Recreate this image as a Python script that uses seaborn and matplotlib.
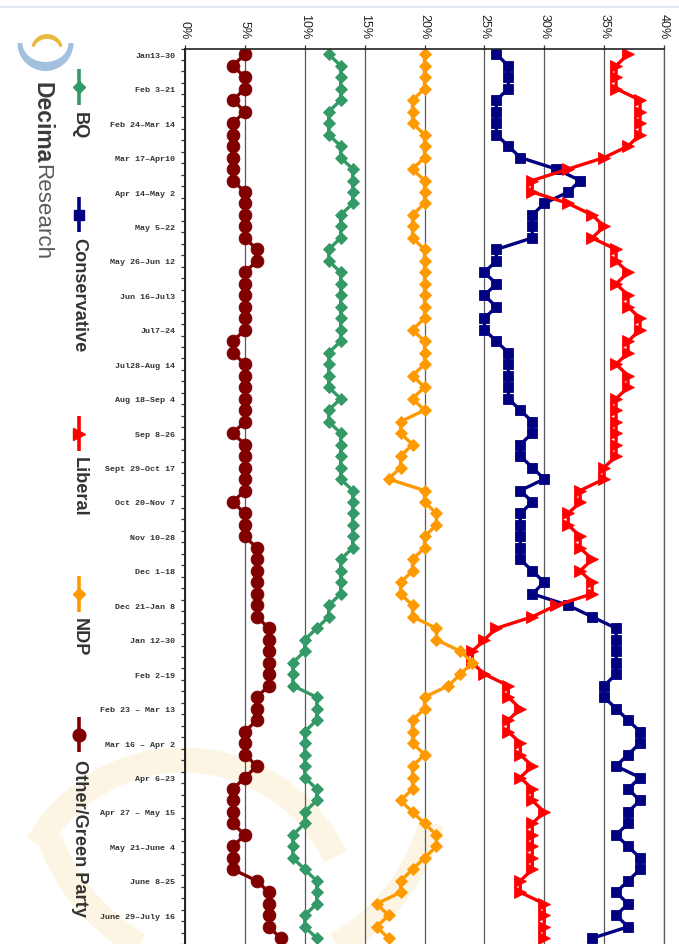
import numpy as np
import pandas as pd
import matplotlib
matplotlib.use("Agg")
import matplotlib.pyplot as plt
from matplotlib import font_manager
import seaborn as sns

# Poll periods (one label for every third rolling sample)
period_labels = [
    "Jan13–30", "Feb 3–21", "Feb 24–Mar 14", "Mar 17–Apr10", "Apr 14–May 2",
    "May 5–22", "May 26–Jun 12", "Jun 16–Jul3", "Jul7–24", "Jul28–Aug 14",
    "Aug 18–Sep 4", "Sep 8–26", "Sept 29–Oct 17", "Oct 20–Nov 7", "Nov 10–28",
    "Dec 1–18", "Dec 21–Jan 8", "Jan 12–30", "Feb 2–19", "Feb 23 – Mar 13",
    "Mar 16 – Apr 2", "Apr 6–23", "Apr 27 – May 15", "May 21–June 4",
    "June 8–25", "June 29–July 16",
]
label_step = 3

# Vote intention (%) per rolling sample
bq = [12, 13, 13, 13, 13, 12, 12, 12, 13, 13, 14, 14, 14, 14, 13,
      13, 13, 12, 12, 13, 13, 13, 13, 13, 13, 13, 12, 12, 12, 12,
      13, 12, 12, 13, 13, 13, 13, 13, 14, 14, 14, 14, 14, 14, 13, 13,
      13, 13, 12, 12, 11, 10, 10, 9, 9, 9, 11, 11, 11, 10, 10, 10,
      10, 10, 11, 11, 10, 10, 9, 9, 9, 10, 11, 11, 11, 10, 10, 11]
conservative = [26, 27, 27, 27, 26, 26, 26, 26, 27, 28, 31, 33, 32, 30, 29,
                29, 29, 26, 26, 25, 26, 25, 26, 25, 25, 26, 27, 27, 27, 27,
                27, 28, 29, 29, 28, 28, 29, 30, 28, 29, 28, 28, 28, 28, 28, 29,
                30, 29, 32, 34, 36, 36, 36, 36, 36, 35, 35, 36, 37, 38, 38, 37,
                36, 38, 37, 38, 37, 37, 36, 37, 38, 38, 37, 36, 37, 36, 37, 34]
liberal = [37, 36, 36, 36, 38, 38, 38, 38, 37, 35, 32, 29, 29, 32, 34,
           35, 34, 36, 36, 37, 36, 37, 37, 38, 38, 37, 37, 36, 37, 37,
           36, 36, 36, 36, 36, 36, 35, 35, 33, 33, 32, 32, 33, 33, 34, 33,
           34, 34, 31, 29, 26, 25, 24, 24, 25, 27, 27, 28, 27, 27, 28, 28,
           29, 28, 29, 29, 30, 29, 29, 29, 29, 29, 28, 28, 30, 30, 30, 30]
ndp = [20, 20, 20, 20, 19, 19, 19, 20, 20, 20, 19, 20, 20, 20, 19,
       19, 19, 20, 20, 20, 20, 20, 20, 20, 19, 20, 20, 20, 19, 20,
       19, 20, 18, 18, 19, 18, 18, 17, 20, 20, 21, 21, 20, 20, 19, 19,
       18, 18, 19, 19, 21, 21, 23, 24, 23, 22, 20, 20, 19, 19, 19, 20,
       19, 19, 19, 18, 19, 20, 21, 21, 20, 19, 18, 18, 16, 17, 16, 17]
other_green = [5, 4, 5, 5, 4, 5, 4, 4, 4, 4, 4, 4, 5, 5, 5,
               5, 5, 6, 6, 5, 5, 5, 5, 5, 5, 4, 4, 5, 5, 5,
               5, 5, 5, 4, 5, 5, 5, 5, 5, 4, 5, 5, 5, 6, 6, 6,
               6, 6, 6, 6, 7, 7, 7, 7, 7, 7, 6, 6, 6, 5, 5, 5,
               6, 5, 4, 4, 4, 4, 5, 4, 4, 4, 6, 7, 7, 7, 7, 8]

party_names = ["BQ", "Conservative", "Liberal", "NDP", "Other/Green Party"]
party_values = [bq, conservative, liberal, ndp, other_green]
party_colors = ["#339966", "#000080", "#FF0000", "#FF9900", "#800000"]
party_markers = ["D", "s", ">", "D", "o"]
marker_sizes = [6.6, 7.0, 8.6, 6.6, 9.2]

value_ticks = list(range(0, 41, 5))

# ---------------------------------------------------------------- styling
sns.set_style("white")
names = {f.name for f in font_manager.fontManager.ttflist}
NARROW = "Liberation Sans Narrow" if "Liberation Sans Narrow" in names else None
SANS = [NARROW, "Liberation Sans", "DejaVu Sans"] if NARROW else ["Liberation Sans", "DejaVu Sans"]
shrink = 1.0 if NARROW else 0.84
plt.rcParams["font.family"] = SANS

W, H, DPI = 679, 945, 100
fig = plt.figure(figsize=(W / DPI, H / DPI), dpi=DPI)
fig.patch.set_facecolor("white")

# full-figure pixel canvas for branding, legend and watermark
bg = fig.add_axes([0, 0, 1, 1], zorder=0)
bg.set_xlim(0, W)
bg.set_ylim(H, 0)
bg.axis("off")

bg.plot([0, W], [7.5, 7.5], color="#DCE4EC", lw=1.2)

# faint watermark arcs
wm = "#FCF5E3"
t = np.radians(np.linspace(25, 150, 200))
bg.plot(183 + 168 * np.cos(t), 929 - 168 * np.sin(t), color=wm, lw=18,
        solid_capstyle="butt", zorder=0)
t = np.radians(np.linspace(200, 345, 200))
bg.plot(238 + 200 * np.cos(t), 772 - 200 * np.sin(t), color=wm, lw=18,
        solid_capstyle="butt", zorder=0)

# logo: blue crescent and yellow arc
t = np.linspace(0, np.pi, 120)
outer_x, outer_y = 45.5 + 28 * np.cos(t), 44 + 28 * np.sin(t)
inner_x, inner_y = 45.5 + 23 * np.cos(t[::-1]), 44 + 19 * np.sin(t[::-1])
bg.fill(np.r_[outer_x, inner_x], np.r_[outer_y, inner_y], color="#A3C1DE", lw=0)
t = np.radians(np.linspace(14, 166, 120))
outer_x, outer_y = 47 + 16 * np.cos(t), 51 - 16 * np.sin(t)
inner_x, inner_y = 47 + 13 * np.cos(t[::-1]), 51 - 11 * np.sin(t[::-1])
bg.fill(np.r_[outer_x, inner_x], np.r_[outer_y, inner_y], color="#E9B940", lw=0)
bg.text(42, 82, "Decima", rotation=-90, ha="center", va="top",
        fontsize=20 * shrink * 0.98, fontweight="bold", color="#3A3A3A")
bg.text(42, 164, "Research", rotation=-90, ha="center", va="top",
        fontsize=20 * shrink * 0.96, color="#5A5A5A")

# legend (rotated entries)
legend_slots = [(70, 106, 112), (198, 233, 238), (417, 452, 457),
                (577, 613, 618), (718, 753, 760)]
for name, color, mk, ms, (y0, y1, yt) in zip(party_names, party_colors,
                                             party_markers, marker_sizes,
                                             legend_slots):
    bg.plot([79, 79], [y0, y1], color=color, lw=2.6, solid_capstyle="butt")
    bg.plot([79], [(y0 + y1) / 2], marker=mk, ms=ms, color=color, mec=color)
    bg.text(79, yt, name, rotation=-90, ha="center", va="top",
            fontsize=15.5 * shrink, fontweight="bold", color="#333333")

# ---------------------------------------------------------------- chart
n = len(bq)
top_px, left_px, right_px = 49.5, 185, 664
step_px = 11.53
y_bottom = -0.5 + (H - top_px) / step_px
ax = fig.add_axes([left_px / W, 0, (right_px - left_px) / W, (H - top_px) / H],
                  zorder=1)
ax.set_facecolor("none")

for name, vals, color, mk, ms in zip(party_names, party_values, party_colors,
                                     party_markers, marker_sizes):
    d = pd.DataFrame({"period": np.arange(len(vals)), "share": vals})
    sns.lineplot(data=d, x="share", y="period", orient="y", sort=False,
                 estimator=None, color=color, marker=mk, markersize=ms,
                 markeredgecolor=color, markeredgewidth=0.6, linewidth=2.4,
                 legend=False, ax=ax)

ax.set_xlim(0, 40)
ax.set_ylim(y_bottom, -0.5)
ax.set_xlabel("")
ax.set_ylabel("")

ax.xaxis.tick_top()
ax.set_xticks(value_ticks)
ax.set_xticklabels([f"{v}%" for v in value_ticks])
ax.tick_params(axis="x", top=True, bottom=False, labeltop=True,
               labelbottom=False, length=3, width=0.9, pad=4.5,
               labelrotation=-90, labelsize=10 * (1.0 if NARROW else 0.9),
               labelcolor="#222222", color="#333333")

ax.set_yticks(np.arange(0, n, label_step)[:len(period_labels)])
ax.set_yticklabels(period_labels, family=["Liberation Mono", "DejaVu Sans Mono"],
                   fontsize=6, fontweight="bold", color="#333333")
ax.set_yticks(np.arange(-0.5, n, 1), minor=True)
ax.tick_params(axis="y", which="major", length=0, pad=7)
ax.tick_params(axis="y", which="minor", length=3, width=0.9, color="#333333",
               direction="out", left=True)

ax.grid(axis="x", color="#5A5A5A", lw=0.9)
ax.grid(axis="y", visible=False)
ax.set_axisbelow(True)
ax.spines["bottom"].set_visible(False)
ax.spines["right"].set_color("#5A5A5A")
ax.spines["right"].set_linewidth(0.9)
ax.spines["left"].set_color("#222222")
ax.spines["left"].set_linewidth(1.4)
ax.spines["top"].set_color("#222222")
ax.spines["top"].set_linewidth(1.2)

fig.savefig("out.png", dpi=DPI, facecolor="white")
